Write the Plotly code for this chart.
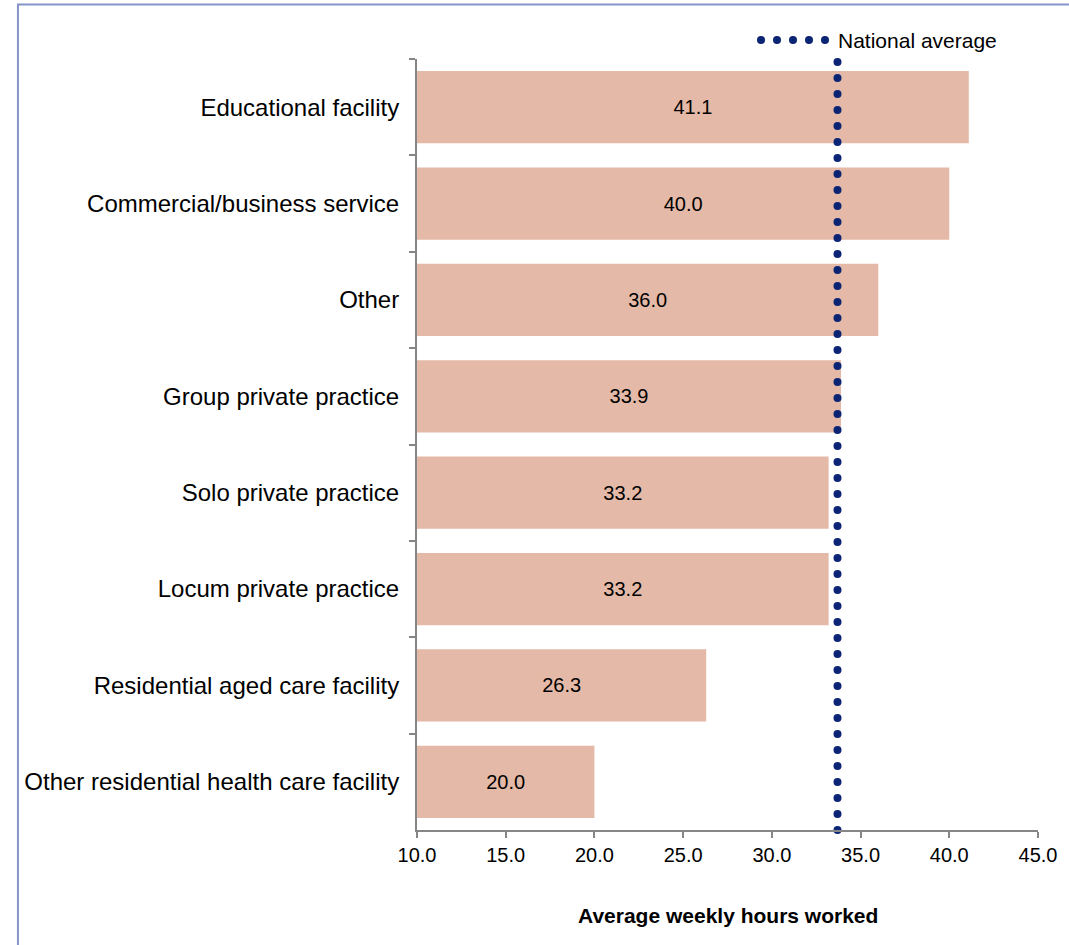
import numpy as np
import plotly.graph_objects as go

# Workplace settings, listed top to bottom
categories = [
    "Educational facility",
    "Commercial/business service",
    "Other",
    "Group private practice",
    "Solo private practice",
    "Locum private practice",
    "Residential aged care facility",
    "Other residential health care facility",
]
hours = [41.1, 40.0, 36.0, 33.9, 33.2, 33.2, 26.3, 20.0]
national_average = 33.7

x_min, x_max = 10.0, 45.0
x_ticks = [10.0, 15.0, 20.0, 25.0, 30.0, 35.0, 40.0, 45.0]

FONT = "Liberation Sans, Arial, sans-serif"
BAR_COLOR = "#e4b9a7"
DOT_COLOR = "#0b2474"
AXIS_COLOR = "#868686"

fig = go.Figure()

# Bars start at the axis minimum and end at each value
fig.add_trace(go.Bar(
    y=categories,
    x=[v - x_min for v in hours],
    base=x_min,
    orientation="h",
    marker=dict(color=BAR_COLOR, line=dict(width=0)),
    text=[f"{v:.1f}" for v in hours],
    textposition="inside",
    insidetextanchor="middle",
    textfont=dict(family=FONT, size=20, color="#000000"),
    hoverinfo="skip",
    showlegend=False,
))

# Dotted national-average line, drawn as evenly spaced round dots
n_dots = 49
dot_y = np.linspace(0.0, 0.996, n_dots)
fig.add_trace(go.Scatter(
    x=[national_average] * n_dots,
    y=dot_y,
    yaxis="y2",
    mode="markers",
    marker=dict(color=DOT_COLOR, size=8, line=dict(width=0)),
    cliponaxis=False,
    hoverinfo="skip",
    showlegend=False,
))

shapes = []
# Outer frame
shapes.append(dict(
    type="rect", xref="paper", yref="paper",
    x0=-0.6426, x1=1.2, y0=-0.3, y1=1.0707,
    line=dict(color="#8593c9", width=2), fillcolor="rgba(0,0,0,0)",
    layer="below",
))
# Legend sample: five dots before the label
legend_x = 0.6747
legend_y = 1.0246
for off in [-75, -59, -43, -27, -11]:
    shapes.append(dict(
        type="circle", xref="paper", yref="paper",
        xsizemode="pixel", ysizemode="pixel",
        xanchor=legend_x, yanchor=legend_y,
        x0=off - 4, x1=off + 4, y0=-4, y1=4,
        fillcolor=DOT_COLOR, line=dict(width=0),
    ))

annotations = [
    dict(text="National average", xref="paper", yref="paper",
         x=legend_x, y=legend_y, xanchor="left", yanchor="middle",
         showarrow=False, font=dict(family=FONT, size=21, color="#000000")),
    dict(text="<b>Average weekly hours worked</b>", xref="paper", yref="paper",
         x=0.5, y=-0.1115, xanchor="center", yanchor="middle",
         showarrow=False, font=dict(family=FONT, size=21, color="#000000")),
]

fig.update_layout(
    width=1069, height=945,
    margin=dict(l=417, r=28, t=59, b=115),
    paper_bgcolor="#ffffff", plot_bgcolor="#ffffff",
    bargap=0.25,
    font=dict(family=FONT, size=20, color="#000000"),
    xaxis=dict(
        range=[x_min, x_max], tickvals=x_ticks, tickformat=".1f",
        showgrid=False, zeroline=False,
        showline=True, linecolor=AXIS_COLOR, linewidth=2,
        ticks="outside", ticklen=6, tickcolor=AXIS_COLOR, tickwidth=2,
        tickfont=dict(family=FONT, size=20, color="#000000"),
    ),
    yaxis=dict(
        autorange="reversed", showgrid=False, zeroline=False,
        showline=True, linecolor=AXIS_COLOR, linewidth=2,
        ticks="outside", tickson="boundaries", ticklen=6,
        tickcolor=AXIS_COLOR, tickwidth=2, ticklabelstandoff=11,
        tickfont=dict(family=FONT, size=24, color="#000000"),
    ),
    yaxis2=dict(
        overlaying="y", range=[0, 1], visible=False, fixedrange=True,
    ),
    shapes=shapes,
    annotations=annotations,
)

fig.write_html("out.html")
